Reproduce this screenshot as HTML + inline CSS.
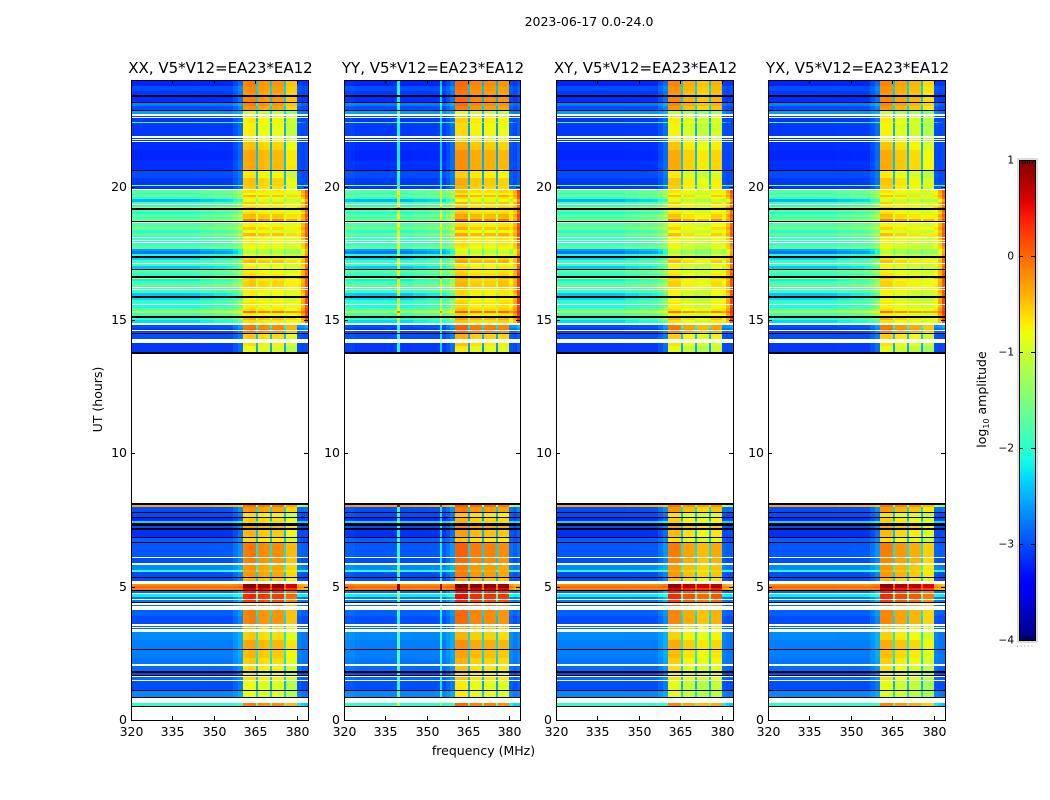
<!DOCTYPE html>
<html lang="en">
<head>
<meta charset="utf-8">
<title>2023-06-17 0.0-24.0</title>
<style>
html,body{margin:0;padding:0;background:#fff;width:1050px;height:800px;overflow:hidden}
svg{display:block}
text{font-family:"DejaVu Sans","Liberation Sans",sans-serif;fill:#000}
</style>
</head>
<body>
<svg id="chart" xmlns="http://www.w3.org/2000/svg" width="1050" height="800" viewBox="0 0 1050 800">
<rect x="0" y="0" width="1050" height="800" fill="#fff"/>
<text x="589" y="26" font-size="12.5" text-anchor="middle">2023-06-17 0.0-24.0</text>
<text x="483.5" y="755" font-size="12.5" text-anchor="middle">frequency (MHz)</text>
<text x="102" y="399.5" font-size="12.5" text-anchor="middle" transform="rotate(-90 102 399.5)">UT (hours)</text>
<text x="986" y="399.5" font-size="12.5" text-anchor="middle" transform="rotate(-90 986 399.5)">log<tspan font-size="8" dy="3">10</tspan><tspan dy="-3"> amplitude</tspan></text>
<g id="panels"></g>
<g id="colorbar"></g>
</svg>
<script>
// flag markers used in the row level arrays
const W = null;   // flagged row, drawn white
const B = -99;    // empty row, drawn black

// axis ticks
const freqTicks = [320, 335, 350, 365, 380];
const hourTicks = [0, 5, 10, 15, 20];
const colorTicks = [1, 0, -1, -2, -3, -4];
const panelTitles = ["XX", "YY", "XY", "YX"];
const baselineLabel = "V5*V12=EA23*EA12";

// frequency bands (start, MHz) and how much of each band follows the in-band / right-edge level
const bandStart = [320,324,329,334,339.4,340.2,345,350,354.8,355.6,357,358.6,360.4,362.5,365.1,365.9,368,370.2,370.9,373,375.3,376,378,379.9,381.5,383];
const inBandShare = [0,0,0,0,0,0,0,0,0,0,.05,.11,1,1,.25,.98,.98,.25,.97,.97,.25,.95,.95,.02,0,0];
const edgeShare = [0,0,0,0,0,0,.05,.08,.1,.1,.14,.2,0,0,.3,0,0,.3,0,0,.3,.05,.05,.55,.75,1];

// per-polarisation band offsets (log10 amplitude)
const offsetXX = [0,0,0,0,0,0,0,0,0,0,0,0,.05,.1,0,.05,0,0,.05,.05,0,-.15,-.15,0,0,0];
const offsetYY = [.05,0,0,0,1,0,0,0,.8,0,0,0,.2,.2,-.1,.1,.1,-.1,.1,.1,-.1,.1,.1,.05,0,.1];
const offsetXY = [0,0,0,0,0,0,0,0,0,0,0,0,.05,.05,0,-.1,-.1,0,-.2,-.2,0,-.05,-.05,0,0,0];
const offsetYX = [0,0,0,0,0,0,0,0,0,0,0,0,.05,.05,0,-.05,-.05,0,-.12,-.12,0,-.25,-.25,0,0,0];
const panelOffsets = [offsetXX, offsetYY, offsetXY, offsetYX];

// late block, 24.0 to 19.9 UT
const hoursLate = [24,23.78,23.59,23.44,23.38,23.18,23.14,23.03,22.88,22.82,22.71,22.65,22.61,22.56,22.44,22.39,21.9,21.84,21.79,21.75,21.71,21.66,21.38,21,20.63,20.57,20.33,20.06,20.01,19.91];
const lowLate = [-3.2,-3,-3.1,B,-3.15,B,-2.75,-3,B,-2.6,W,-3,W,-3.1,-1.8,-3.1,W,-3.15,W,-3.1,W,-3.15,-3.2,-3.15,B,-3,-3.1,-1.3,-3.1,W];
const highLate = [-.2,-.25,-.3,0,-.2,0,-.2,-.3,0,-1.1,0,-.7,0,-.75,-.75,-.8,0,-.75,0,-.75,0,-.55,-.4,-.4,0,-.75,-.55,-.6,-.6,0];
const edgeLate = [-3.1,-3,-3,0,-3.1,0,-2.9,-3,0,-2.8,0,-3,0,-3,-3,-3,0,-3,0,-3,0,-3,-3,-3,0,-3,-3,-2,-2.8,0];

// busy block, 19.9 to 14.9 UT
const hoursBusy = [
19.86,19.76,19.69,19.61,19.52,19.44,19.35,19.31,19.24,19.2,
19.14,19.05,18.96,18.86,18.79,18.73,18.68,18.62,18.49,18.38,
18.26,18.15,18.11,18.08,18,17.96,17.93,17.87,17.79,17.76,
17.68,17.59,17.49,17.4,17.34,17.25,17.14,17.1,17.03,16.91,
16.86,16.76,16.65,16.59,16.54,16.46,16.35,16.24,16.2,16.16,
16.13,16.01,15.9,15.84,15.75,15.64,15.6,15.56,15.45,15.34,
15.26,15.15,15.09,15,14.89];
const lowBusy = [
-1.7,-1.9,-1.6,-2,-2.5,-1.8,W,-2,-1.3,B,
-1.8,-2.1,-1.7,-1.9,-1.6,B,W,-1.8,-1.6,-2,
-1.7,-2,W,-1.9,W,-2,W,-1.9,W,-1.7,
-2.6,-2.8,-2.1,B,-2.3,-1.9,W,-1.9,-2.4,B,
-1.7,-2,B,-1.2,-2.2,-1.9,-1.7,W,-1.9,W,
-1.9,-2.4,B,-2.3,-2,-1.9,W,-2.1,-1.8,-1.1,
-1.9,B,-2,-2.3,W];
const highBusy = [
-.7,-.9,-.5,-.8,-1,-.6,0,-.8,-.6,0,
-.8,-.7,-.5,-.6,-.2,0,0,-.8,-.6,-.9,
-.5,-.8,0,-.8,0,-.8,0,-.8,0,-.9,
-1.1,-1.2,-.9,0,-.7,-.5,0,-.9,-.8,0,
-.8,-.7,0,-.5,-.7,-.6,-.6,0,-.7,0,
-.8,-.8,0,-.9,-.8,-.7,0,-.8,-.7,-.1,
-.8,0,-.5,-.7,0];
const edgeBusy = [
.1,0,.1,0,-.3,0,0,-.1,.1,0,
0,-.1,.1,0,.1,0,0,0,.1,0,
.1,0,0,0,0,-.1,0,-.1,0,-.2,
-.4,-.3,-.2,0,0,0,0,-.1,0,0,
0,.1,0,.2,.1,.1,.1,0,.1,0,
.1,.1,0,.2,.2,.2,0,.1,.2,.3,
.2,0,.2,.1,0];

// quiet block, 14.8 to 13.7 UT
const hoursFade = [14.83,14.7,14.63,14.59,14.53,14.46,14.29,14.14,14.04,14.01,13.8,13.74];
const lowFade = [-3,-3.1,W,-3,B,-3,W,-3.1,W,-3.1,B,W];
const highFade = [-.15,-.1,0,-.2,0,-.6,0,-.7,0,-.9,0,0];
const edgeFade = [-2.5,-2.7,0,-2.8,0,-3,0,-3,0,-3,0,0];

// morning block, 8.1 to 0.5 UT
const hoursMorning = [
8.14,8.06,7.99,7.8,7.76,7.61,7.56,7.46,7.37,7.28,
7.2,7.14,6.86,6.81,6.69,6.64,6.11,6.06,5.89,5.83,
5.63,5.55,5.36,5.31,5.21,5.1,5.03,4.95,4.88,4.82,
4.76,4.73,4.61,4.54,4.5,4.44,4.39,4.33,4.27,4.11,
3.9,3.6,3.54,3.49,3.45,3.41,3.3,3,2.66,2.61,
2.33,2.1,2.04,1.84,1.78,1.69,1.65,1.61,1.5,1.46,
1.13,1.07,.86,.81,.62,.53,.47];
const lowMorning = [
B,-.3,-3,B,-3,B,-3.2,-2.3,B,-3,
B,-3.15,B,-2.9,B,-2.95,W,-3,W,-2.7,
-2,-3,B,-3,W,-.2,0,-.1,B,-2.9,
W,-2.2,-2.8,W,-2.8,B,W,-2.8,W,-2.9,
-3,W,-2.9,W,-2.9,W,-2.7,-2.75,B,-2.75,
-2.8,W,-2.85,B,-3,B,W,-2.85,W,-3,
B,-2.7,B,W,-2,B,W];
const highMorning = [
0,-.1,-.3,0,-.7,0,-.6,-.6,0,-.35,
0,-.5,0,-.7,0,-.15,0,-.2,0,-.3,
-.4,-.3,0,-.5,0,.85,.9,.5,0,.3,
0,.3,.3,0,.2,0,0,-.1,0,-.2,
-.2,0,-.5,0,-.5,0,-.6,-.4,0,-.5,
-.6,0,-.7,0,-.8,0,0,-.7,0,-.9,
0,-.9,0,0,-.2,0,0];
const edgeMorning = [
0,-1.5,-2.8,0,-3,0,-3,-2.3,0,-3,
0,-3,0,-3,0,-2.9,0,-3,0,-2.8,
-2,-3,0,-3,0,-.5,-.3,-.5,0,-2.8,
0,-2.2,-2.8,0,-2.8,0,0,-2.8,0,-2.9,
-3,0,-2.9,0,-2.9,0,-2.8,-2.8,0,-2.8,
-2.8,0,-2.9,0,-3,0,0,-2.9,0,-3,
0,-2.8,0,0,-2.4,0,0];

const rowTopHour = [...hoursLate, ...hoursBusy, ...hoursFade, ...hoursMorning];
const rowLow = [...lowLate, ...lowBusy, ...lowFade, ...lowMorning];
const rowHigh = [...highLate, ...highBusy, ...highFade, ...highMorning];
const rowEdge = [...edgeLate, ...edgeBusy, ...edgeFade, ...edgeMorning];

// layout
const NS = "http://www.w3.org/2000/svg";
const panelLefts = [131, 344, 556, 768];
const panelWidths = [177, 176, 177, 177];
const plotTop = 80, plotBottom = 720;
const freqMin = 320, freqMax = 384, hourMin = 0, hourMax = 24;
const valueMin = -4, valueMax = 1;
const cbLeft = 1019, cbWidth = 16, cbTop = 160, cbBottom = 640;

function xScale(mhz, left, width) { return left + (mhz - freqMin) / (freqMax - freqMin) * width; }
function yScale(hour) { return plotBottom - (hour - hourMin) / (hourMax - hourMin) * (plotBottom - plotTop); }
function cbScale(v) { return cbBottom - (v - valueMin) / (valueMax - valueMin) * (cbBottom - cbTop); }

function ramp(t, pts) {
  if (t <= pts[0][0]) return pts[0][1];
  for (let i = 1; i < pts.length; i++) {
    if (t <= pts[i][0]) {
      const a = pts[i - 1], b = pts[i];
      return a[1] + (t - a[0]) / (b[0] - a[0]) * (b[1] - a[1]);
    }
  }
  return pts[pts.length - 1][1];
}
function jet(v) {
  const t = Math.max(0, Math.min(1, (v - valueMin) / (valueMax - valueMin)));
  const r = ramp(t, [[0, 0], [.35, 0], [.66, 1], [.89, 1], [1, .5]]);
  const g = ramp(t, [[0, 0], [.125, 0], [.375, 1], [.64, 1], [.91, 0], [1, 0]]);
  const b = ramp(t, [[0, .5], [.11, 1], [.34, 1], [.65, 0], [1, 0]]);
  return "rgb(" + Math.round(r * 255) + "," + Math.round(g * 255) + "," + Math.round(b * 255) + ")";
}
function make(parent, tag, attrs) {
  const node = document.createElementNS(NS, tag);
  for (const k in attrs) node.setAttribute(k, attrs[k]);
  parent.appendChild(node);
  return node;
}

const panelsRoot = document.getElementById("panels");

panelTitles.forEach(function (pol, p) {
  const left = panelLefts[p];
  const panelWidth = panelWidths[p];
  const right = left + panelWidth;
  const group = make(panelsRoot, "g", {});
  
  

  const heat = make(group, "g", { "shape-rendering": "crispEdges" });
  
  

  rowTopHour.forEach(function (top, r) {
    const next = r + 1 < rowTopHour.length ? rowTopHour[r + 1] : hourMin;
    const y0 = Math.round(yScale(top));
    const y1 = Math.round(yScale(next));
    const low = rowLow[r];
    if (low === W || low === B) {
      const flag = make(heat, "rect", { x: left, y: y0, width: panelWidth, height: Math.max(1, y1 - y0), fill: low === W ? "#fff" : "#000" });
      
      
      return;
    }
    bandStart.forEach(function (f, c) {
      const fNext = c + 1 < bandStart.length ? bandStart[c + 1] : freqMax;
      const x0 = Math.round(xScale(f, left, panelWidth));
      const x1 = Math.round(xScale(fNext, left, panelWidth));
      const value = low + (rowHigh[r] - low) * inBandShare[c] + (rowEdge[r] - low) * edgeShare[c] + panelOffsets[p][c];
      const cell = make(heat, "rect", { x: x0, y: y0, width: Math.max(1, x1 - x0), height: Math.max(1, y1 - y0), fill: jet(value) });
      
      
    });
  });

  const frame = make(group, "rect", { x: left + .5, y: plotTop + .5, width: panelWidth, height: plotBottom - plotTop, fill: "none", stroke: "#000", "stroke-width": 1, "shape-rendering": "crispEdges" });
  
  

  const title = make(group, "text", { x: left + panelWidth / 2 + 1, y: 73, "font-size": 15, "text-anchor": "middle" });
  title.textContent = pol + ", " + baselineLabel;
  
  

  freqTicks.forEach(function (f) {
    const x = Math.round(xScale(f, left, panelWidth)) + .5;
    const tb = make(group, "line", { x1: x, x2: x, y1: plotBottom, y2: plotBottom - 4, stroke: "#000" });
    
    
    const tt = make(group, "line", { x1: x, x2: x, y1: plotTop, y2: plotTop + 4, stroke: "#000" });
    
    
    const lab = make(group, "text", { x: x, y: 736, "font-size": 12.5, "text-anchor": "middle" });
    lab.textContent = String(f);
    
    
  });

  hourTicks.forEach(function (h) {
    const y = Math.round(yScale(h)) + .5;
    const tl = make(group, "line", { x1: left, x2: left + 4, y1: y, y2: y, stroke: "#000" });
    
    
    const tr = make(group, "line", { x1: right, x2: right - 4, y1: y, y2: y, stroke: "#000" });
    
    
    const lab = make(group, "text", { x: left - 4, y: y + 3.5, "font-size": 12.5, "text-anchor": "end" });
    lab.textContent = String(h);
    
    
  });
});

// colorbar
const cbRoot = document.getElementById("colorbar");
const defs = make(cbRoot, "defs", {});
const grad = make(defs, "linearGradient", { id: "jetGradient", x1: 0, y1: 1, x2: 0, y2: 0 });
for (let i = 0; i <= 50; i++) {
  make(grad, "stop", { offset: i / 50, "stop-color": jet(valueMin + (valueMax - valueMin) * i / 50) });
}
const cbHalo = make(cbRoot, "rect", { x: cbLeft - 1, y: cbTop - 1, width: cbWidth + 3, height: cbBottom - cbTop + 3, fill: "none", stroke: "#bbb", "stroke-width": 1 });


const cbBar = make(cbRoot, "rect", { x: cbLeft + .5, y: cbTop + .5, width: cbWidth, height: cbBottom - cbTop, fill: "url(#jetGradient)", stroke: "#000", "stroke-width": 1 });



colorTicks.forEach(function (v) {
  const y = Math.round(cbScale(v)) + .5;
  const a = make(cbRoot, "line", { x1: cbLeft, x2: cbLeft + 4, y1: y, y2: y, stroke: "#000" });
  
  
  const b = make(cbRoot, "line", { x1: cbLeft + cbWidth, x2: cbLeft + cbWidth - 4, y1: y, y2: y, stroke: "#000" });
  
  
  const lab = make(cbRoot, "text", { x: 1014, y: y + 3, "font-size": 10.5, "text-anchor": "end" });
  lab.textContent = v < 0 ? "\u2212" + Math.abs(v) : String(v);
  
  
});

for (let i = 0; i < 5; i++) {
  const x = cbLeft + 3.5 + i * 2.5;
  const capTop = make(cbRoot, "line", { x1: x, x2: x, y1: cbTop, y2: cbTop + 4, stroke: "#000", "stroke-width": .7 });
  
  
  const capBottom = make(cbRoot, "line", { x1: x, x2: x, y1: cbBottom, y2: cbBottom - 4, stroke: "#000", "stroke-width": .7 });
  
  
}

const cbDots = make(cbRoot, "line", { x1: 1017, x2: 1035, y1: 646, y2: 646, stroke: "#999", "stroke-dasharray": "1 2.6" });


</script>
</body>
</html>
